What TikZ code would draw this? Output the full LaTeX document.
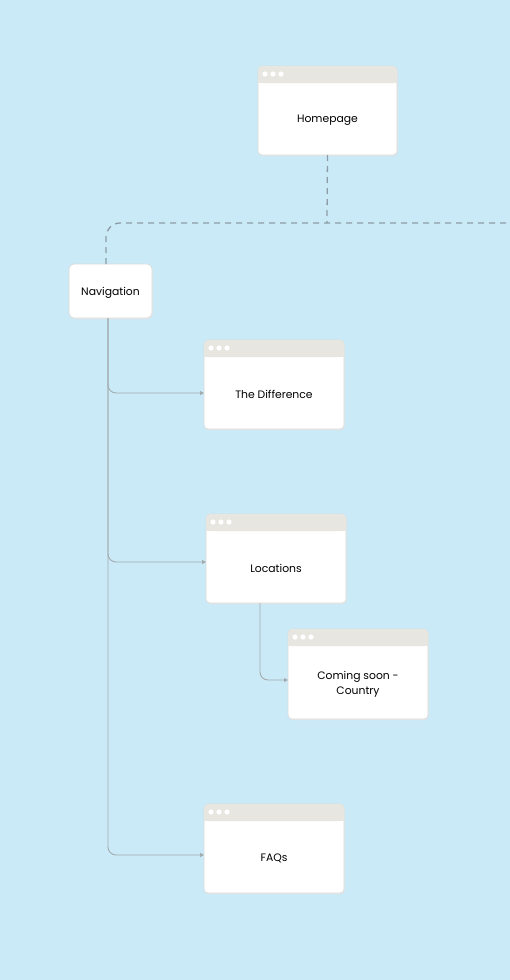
\documentclass[tikz,border=0pt]{standalone}
\usepackage{fontspec}
\setmainfont{Poppins}
\usetikzlibrary{arrows.meta,calc}
\definecolor{bg}{HTML}{C9EAF6}
\definecolor{hdr}{HTML}{E8E6E1}
\definecolor{dashc}{HTML}{8C9CA6}
\definecolor{linec}{HTML}{A3ABAF}
\definecolor{boxedge}{HTML}{DADADA}
\tikzset{
  x=1pt,y=-1pt,
  page/.style={draw=boxedge, line width=0.6pt, fill=white, rounded corners=4pt},
  plain/.style={draw=boxedge, line width=0.6pt, fill=white, rounded corners=5pt},
  lbl/.style={font=\fontsize{10.8}{15}\selectfont, text=black, align=center},
  conn/.style={draw=linec, line width=0.9pt, rounded corners=8pt, -{Triangle[length=4pt,width=4pt]}},
  dconn/.style={draw=dashc, line width=1.3pt, dash pattern=on 6pt off 5pt, rounded corners=14pt},
}
\newcommand{\webpage}[7]{% name, x1, y1, x2, y2, text, arrow y
  \fill[boxedge!70, rounded corners=4pt] ({#2+0.5},{#3+1}) rectangle ({#4+0.5},{#5+1});
  \path[page] (#2,#3) rectangle (#4,#5);
  \fill[hdr, rounded corners=4pt] (#2,#3) -- (#4,#3) -- ({#4},{#3+17}) -- ({#2},{#3+17}) -- cycle;
  \fill[hdr] ({#2},{#3+8}) rectangle ({#4},{#3+17});
  \foreach \k in {0,1,2} \fill[white] ({#2+7+\k*8},{#3+8}) circle (2.6);
  \node[lbl, inner sep=0pt] (#1) at ({(#2+#4)/2},{(#3+17+#5)/2+1.5}) {#6};
  \coordinate (#1-w) at ({#2},{#7});
  \coordinate (#1-s) at ({(#2+#4)/2},{#5});
}
\begin{document}
\begin{tikzpicture}
\fill[bg] (0,0) rectangle (510,980);
\useasboundingbox (0,0) rectangle (510,980);

\webpage{home}{258}{66}{397}{155}{Homepage}{119}
\webpage{diff}{204}{340}{344}{429}{The Difference}{393}
\webpage{loc}{206}{514}{346}{603}{Locations}{562}
\webpage{soon}{288}{629}{428}{719}{Coming soon -\\Country}{680}
\webpage{faq}{204}{804}{344}{893}{FAQs}{855}

\fill[boxedge!70, rounded corners=5pt] (69.5,265) rectangle (152.5,319);
\path[plain] (69,264) rectangle (152,318);
\node[lbl] (nav) at (110.5,292.5) {Navigation};
\coordinate (navtop) at (106,264);
\coordinate (navbot) at (108,318);
\coordinate (rightend) at (510,223);
\coordinate (hbend) at (327,223);
\coordinate (locbot) at (260,603);

% dashed
\draw[dashc, line width=1.3pt, dash pattern=on 6pt off 5pt] (home-s) -- (hbend);
\draw[dconn] (navtop) |- (rightend);

% solid connectors
\draw[conn] (navbot) |- (diff-w);
\draw[conn] (navbot) |- (loc-w);
\draw[conn] (navbot) |- (faq-w);
\draw[conn] (locbot) |- (soon-w);
\end{tikzpicture}
\end{document}
